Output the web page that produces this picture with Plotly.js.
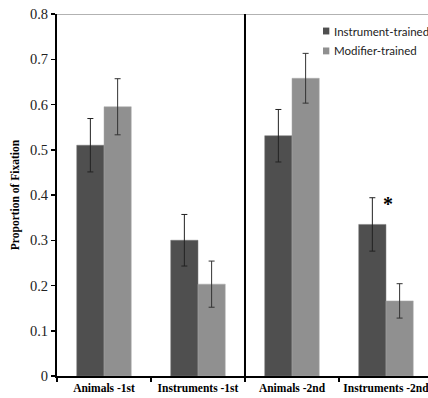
<!DOCTYPE html>
<html><head><meta charset="utf-8">
<script src="https://cdn.plot.ly/plotly-3.0.1.min.js"></script>
<style>html,body{margin:0;padding:0;overflow:hidden;background:#fff}</style>
</head><body>
<div id="chart"></div>
<script>
const categories = ["Animals -1st", "Instruments -1st", "Animals -2nd", "Instruments -2nd"];
const seriesNames = ["Instrument-trained", "Modifier-trained"];
const instrumentTrained = [0.51, 0.30, 0.531, 0.335];
const instrumentErr = [0.059, 0.057, 0.058, 0.059];
const modifierTrained = [0.595, 0.203, 0.658, 0.166];
const modifierErr = [0.062, 0.051, 0.055, 0.038];
const yTicks = [0, 0.1, 0.2, 0.3, 0.4, 0.5, 0.6, 0.7, 0.8];
const yTickLabels = ["0", "0.1", "0.2", "0.3", "0.4", "0.5", "0.6", "0.7", "0.8"];

const serif = "Liberation Serif, Times New Roman, serif";
const colors = ["#4f4f4f", "#909090"];
const traces = [
  {type: "bar", name: seriesNames[0], x: categories, y: instrumentTrained, showlegend: false,
   marker: {color: colors[0], line: {color: "#777", width: 0.5}},
   error_y: {type: "data", array: instrumentErr, visible: true, color: "#222", thickness: 1, width: 3}},
  {type: "bar", name: seriesNames[1], x: categories, y: modifierTrained, showlegend: false,
   marker: {color: colors[1], line: {color: "#aaa", width: 0.5}},
   error_y: {type: "data", array: modifierErr, visible: true, color: "#333", thickness: 1, width: 3}}
];
const legY = [0.953, 0.898];
const shapes = [
  {type: "line", xref: "paper", yref: "y", x0: 0, x1: 1, y0: 0.8, y1: 0.8, line: {color: "#999", width: 1.5}},
  {type: "line", xref: "x", yref: "paper", x0: 1.5, x1: 1.5, y0: 0, y1: 1, line: {color: "#000", width: 2}}
];
const annotations = [
  {x: categories[3], y: instrumentTrained[3] + instrumentErr[3], xref: "x", yref: "y", text: "<b>*</b>",
   showarrow: false, xshift: 2, yshift: -6, yanchor: "middle", font: {family: serif, size: 20, color: "#000"}}
];
seriesNames.forEach((n, i) => {
  shapes.push({type: "rect", xref: "paper", yref: "paper", x0: 0.717, x1: 0.734, y0: legY[i] - 0.0095, y1: legY[i] + 0.0095,
               fillcolor: colors[i], line: {width: 0}});
  annotations.push({x: 0.741, y: legY[i], xref: "paper", yref: "paper", text: n, showarrow: false,
                    xanchor: "left", yanchor: "middle", font: {family: "Lato, sans-serif", size: 11.5, color: "#222"}});
});
const layout = {
  width: 428, height: 398,
  margin: {l: 57, r: 0, t: 14, b: 22, autoexpand: false},
  paper_bgcolor: "#fff", plot_bgcolor: "#fff",
  barmode: "group", bargap: 0.42, bargroupgap: 0,
  showlegend: false,
  xaxis: {type: "category", range: [-0.5, 3.447], automargin: false, showline: true, linecolor: "#000", linewidth: 2,
          ticks: "outside", tickson: "boundaries", ticklen: 4, tickcolor: "#000", tickwidth: 1.5,
          tickangle: 0,
          tickfont: {family: serif, size: 11.5, color: "#000", weight: "bold"},
          showgrid: false, zeroline: false, fixedrange: true},
  yaxis: {range: [0, 0.8], automargin: false, tickvals: yTicks, ticktext: yTickLabels, showline: true, linecolor: "#000", linewidth: 2,
          ticks: "outside", ticklen: 4, tickcolor: "#000", tickwidth: 1.5,
          tickfont: {family: serif, size: 14.5, color: "#222"},
          showgrid: false, zeroline: false,
          title: {text: "Proportion of Fixation", font: {family: serif, size: 11.5, color: "#000", weight: "bold"}, standoff: 8}},
  shapes: shapes,
  annotations: annotations
};
Plotly.newPlot("chart", traces, layout, {displayModeBar: false, staticPlot: true});
</script>
</body></html>
